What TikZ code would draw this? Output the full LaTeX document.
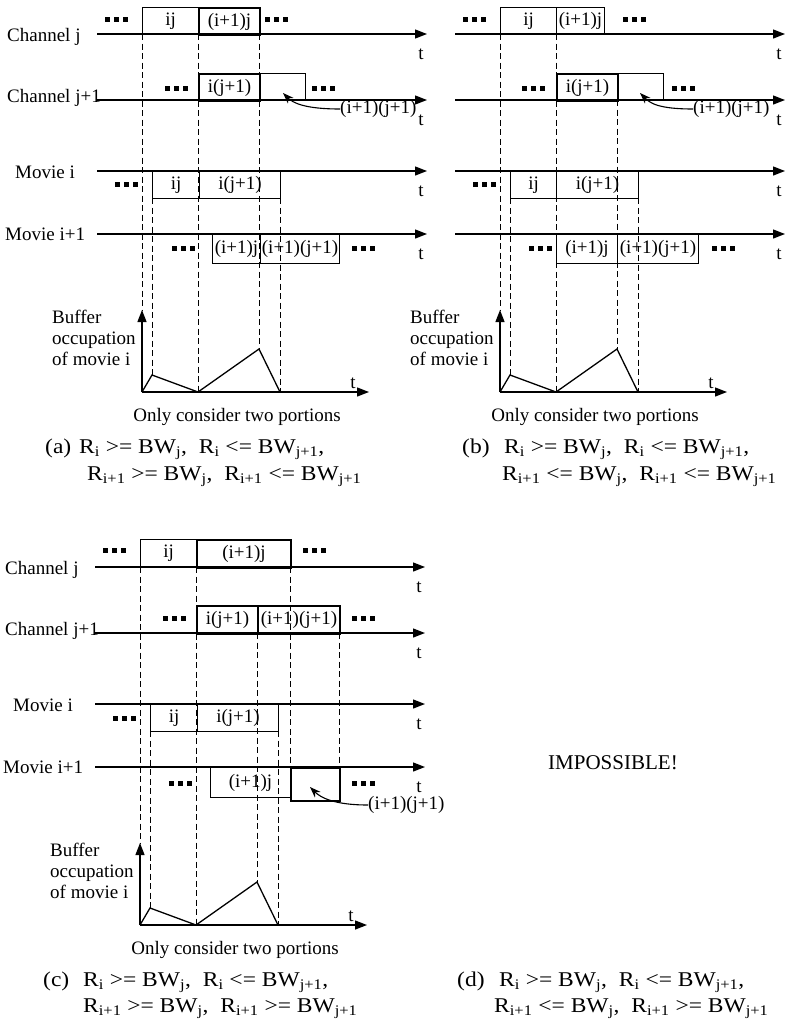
\documentclass[tikz,border=0pt]{standalone}
\usepackage{fontspec}
\setmainfont{Liberation Serif}
\newfontfamily\capfont[FakeStretch=1.12]{Liberation Serif}
\usetikzlibrary{arrows.meta}

\newcommand{\sbs}[1]{\textsubscript{#1}}
% three square dots
\newcommand{\tdots}[2]{\foreach \k in {0,1,2}{\fill ({#1+9*\k},{#2-2.5}) rectangle ++(5,5);}}
% a time slot: [opts]{name}{x1}{y1}{x2}{y2}{text}
\newcommand{\cell}[7][]{\node[cellbox,#1,minimum width={#5pt-#3pt},minimum height={#6pt-#4pt}] (#2) at (#3,#4) {#7};}

\tikzset{
  axis/.style={line width=1.3pt,-{Triangle[length=12pt,width=9pt]}},
  cellbox/.style={draw,line width=1.1pt,inner sep=0pt,anchor=north west},
  heavy/.style={line width=2pt},
  guide/.style={dash pattern=on 6pt off 3.5pt,line width=1pt},
  trace/.style={line width=1.3pt},
  callout/.style={line width=1.1pt,-{Stealth[length=11pt,width=8pt]}},
  lbl/.style={anchor=base west,inner sep=0pt},
  tlbl/.style={inner sep=0pt},
  captxt/.style={anchor=base west,inner sep=0pt,font={\capfont\fontsize{21}{24}\selectfont}}
}

\newcommand{\lanelabels}[1]{%
  \node[lbl] (#1-cj) at (7,41) {Channel j};
  \node[lbl] (#1-cjj) at (7,102) {Channel j+1};
  \node[lbl] (#1-mi) at (15,178) {Movie i};
  \node[lbl] (#1-mii) at (5,240) {Movie i+1};
}
\newcommand{\lanes}[1]{%
  \foreach \yy/\nn in {34/cj,100/cjj,171/mi,234/mii}{
    \draw[axis] (97,\yy) -- (427,\yy);
    \node[tlbl] (#1-t\nn) at (421,\yy+20) {t};
  }
}
\newcommand{\buffer}[1]{%
  \draw[axis] (142,392) -- (142,310);
  \draw[axis] (142,392) -- (369,392);
  \draw[trace] (142,392) -- (152,375) -- (198,392) -- (259,349) -- (280,392);
  \node[tlbl] (#1-bt) at (353,383) {t};
  \node[lbl] (#1-b1) at (52,323) {Buffer};
  \node[lbl] (#1-b2) at (52,344) {occupation};
  \node[lbl] (#1-b3) at (52,365) {of movie i};
  \node[anchor=base,inner sep=0pt] (#1-only) at (237,421) {Only consider two portions};
}

\begin{document}
\begin{tikzpicture}[x=1pt,y=-1pt,font=\fontsize{19}{22}\selectfont]
\useasboundingbox (0,0) rectangle (785,1028);

% (a)
\begin{scope}
\foreach \xx/\ya/\yb in {142/34/310,152/198/375,198/34/392,259/34/349,280/198/392}
  \draw[guide] (\xx,\ya) -- (\xx,\yb);
\lanelabels{a}
\lanes{a}
\buffer{a}
\cell{a-cj1}{142}{7}{198}{34}{ij}
\cell[heavy]{a-cj2}{198}{7}{259}{34}{(i+1)j}
\cell[heavy]{a-cjj1}{198}{73}{259}{100}{i(j+1)}
\cell{a-cjj2}{259}{73}{305}{100}{}
\cell{a-mi1}{152}{171}{199}{198}{ij}
\cell{a-mi2}{199}{171}{280}{198}{i(j+1)}
\cell{a-mii1}{212}{234}{260}{263}{(i+1)j}
\cell{a-mii2}{260}{234}{339}{263}{(i+1)(j+1)}
\tdots{105}{19} \tdots{265}{19} \tdots{165}{88} \tdots{312}{88}
\tdots{115}{184} \tdots{172}{248} \tdots{352}{248}
\node[anchor=west,inner sep=0pt] (a-lab) at (340,109) {(i+1)(j+1)};
\coordinate (a-tip) at (283,93);
\draw[callout] (a-lab.west) .. controls +(-35,0) and +(10,10) .. (a-tip);
\node[captxt] (a-tag) at (45,453) {(a)};
\node[captxt] (a-c1) at (79,453) {R\sbs{i} {>}= BW\sbs{j},\ \ R\sbs{i} {<}= BW\sbs{j+1},};
\node[captxt] (a-c2) at (87,480) {R\sbs{i+1} {>}= BW\sbs{j},\ \ R\sbs{i+1} {<}= BW\sbs{j+1}};
\end{scope}

% (b)
\begin{scope}[shift={(358,0)}]
\foreach \xx/\ya/\yb in {142/34/310,152/198/375,198/34/392,259/100/349,280/198/392}
  \draw[guide] (\xx,\ya) -- (\xx,\yb);
\lanes{b}
\buffer{b}
\cell{b-cj1}{142}{7}{198}{34}{ij}
\cell{b-cj2}{198}{7}{246}{34}{(i+1)j}
\cell[heavy]{b-cjj1}{198}{73}{259}{100}{i(j+1)}
\cell{b-cjj2}{259}{73}{305}{100}{}
\cell{b-mi1}{152}{171}{198}{198}{ij}
\cell{b-mi2}{198}{171}{280}{198}{i(j+1)}
\cell{b-mii1}{198}{234}{259}{263}{(i+1)j}
\cell{b-mii2}{259}{234}{340}{263}{(i+1)(j+1)}
\tdots{105}{19} \tdots{265}{19} \tdots{164}{88} \tdots{314}{88}
\tdots{115}{184} \tdots{171}{248} \tdots{354}{248}
\node[anchor=west,inner sep=0pt] (b-lab) at (335,109) {(i+1)(j+1)};
\coordinate (b-tip) at (282,93);
\draw[callout] (b-lab.west) .. controls +(-35,0) and +(10,10) .. (b-tip);
\node[captxt] (b-tag) at (104,453) {(b)};
\node[captxt] (b-c1) at (146,453) {R\sbs{i} {>}= BW\sbs{j},\ \ R\sbs{i} {<}= BW\sbs{j+1},};
\node[captxt] (b-c2) at (144,480) {R\sbs{i+1} {<}= BW\sbs{j},\ \ R\sbs{i+1} {<}= BW\sbs{j+1}};
\end{scope}

% (c)
\begin{scope}[shift={(-2,533)}]
\foreach \xx/\ya/\yb in {142/34/310,152/198/375,198/34/392,259/100/349,280/198/392,292/34/234,341/100/234}
  \draw[guide] (\xx,\ya) -- (\xx,\yb);
\lanelabels{c}
\lanes{c}
\buffer{c}
\cell{c-cj1}{142}{6}{198}{34}{ij}
\cell[heavy]{c-cj2}{198}{6}{292}{34}{(i+1)j}
\cell[heavy]{c-cjj1}{198}{72}{259}{100}{i(j+1)}
\cell[heavy]{c-cjj2}{259}{72}{341}{100}{(i+1)(j+1)}
\cell{c-mi1}{152}{171}{199}{198}{ij}
\cell{c-mi2}{199}{171}{280}{198}{i(j+1)}
\cell{c-mii1}{212}{234}{292}{264}{(i+1)j}
\cell[heavy]{c-mii2}{292}{234}{341}{267}{}
\tdots{105}{17} \tdots{305}{17} \tdots{165}{85} \tdots{354}{85}
\tdots{115}{185} \tdots{171}{250} \tdots{354}{250}
\node[anchor=west,inner sep=0pt] (c-lab) at (370,272) {(i+1)(j+1)};
\coordinate (c-tip) at (312,254);
\draw[callout] (c-lab.west) .. controls +(-35,0) and +(10,10) .. (c-tip);
\node[captxt] (c-tag) at (45,453) {(c)};
\node[captxt] (c-c1) at (85,453) {R\sbs{i} {>}= BW\sbs{j},\ \ R\sbs{i} {<}= BW\sbs{j+1},};
\node[captxt] (c-c2) at (85,479) {R\sbs{i+1} {>}= BW\sbs{j},\ \ R\sbs{i+1} {>}= BW\sbs{j+1}};
\end{scope}

% (d)
\node[font={\fontsize{21}{24}\selectfont}] (d-imp) at (613,763) {IMPOSSIBLE!};
\node[captxt] (d-tag) at (457,986) {(d)};
\node[captxt] (d-c1) at (499,986) {R\sbs{i} {>}= BW\sbs{j},\ \ R\sbs{i} {<}= BW\sbs{j+1},};
\node[captxt] (d-c2) at (494,1012) {R\sbs{i+1} {<}= BW\sbs{j},\ \ R\sbs{i+1} {>}= BW\sbs{j+1}};
\end{tikzpicture}
\end{document}
